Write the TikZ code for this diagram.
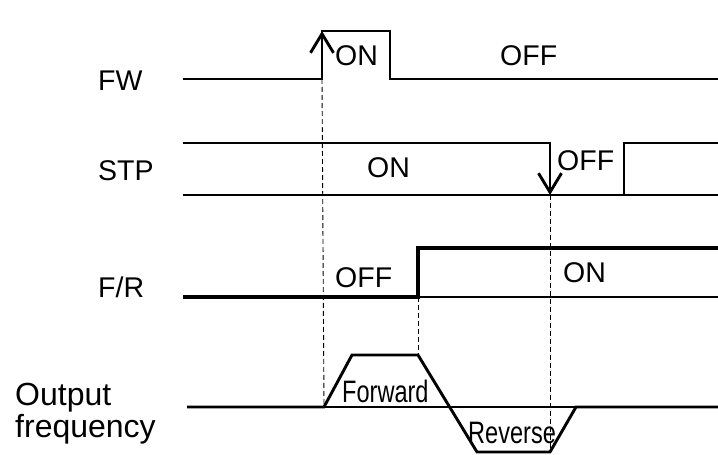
\documentclass[tikz,border=0pt]{standalone}
\usepackage{fontspec}
\setmainfont{Liberation Sans}
\usetikzlibrary{arrows.meta}

\begin{document}
\begin{tikzpicture}[x=1pt,y=-1pt,
    wave/.style={
      line width=2.9pt
    },
    heavy/.style={
      line width=4.8pt
    },
    zero/.style={
      line width=1.2pt
    },
    guide/.style={
      line width=0.9pt,
      dash pattern=on 5pt off 3pt
    },
    trig/.style={
      wave,
      -{Straight Barb[length=19pt,width=23pt]}
    },
    lbl/.style={
      inner sep=0pt,
      anchor=base west,
      font=\fontsize{28.5}{30}\selectfont
    },
    big/.style={lbl,font=\fontsize{32}{32}\selectfont},
    narrow/.style={lbl,font=\fontsize{31}{31}\selectfont}
    ]
    \useasboundingbox (0,0) rectangle (718,455);

    % instants on the traces
    \coordinate (fwrise) at (322,79);
    \coordinate (fwtop) at (322,31);
    \coordinate (stphigh) at (550,143);
    \coordinate (stpdrop) at (550,195);
    \coordinate (frrise) at (418,297);
    \coordinate (outstart) at (324,407);
    \coordinate (outtop) at (418,355);
    \coordinate (outbot) at (550,452);

    \node[lbl] (fw) at (98,90) {FW};
    \node[lbl] (stp) at (98,180) {STP};
    \node[lbl] (fr) at (98,297) {F/R};
    \node[big] (out) at (15,405) {Output};
    \node[big] (freq) at (15,437) {frequency};

    \draw[wave] (183,79) -- (fwrise) -- (fwtop) -- (390,31) -- (390,79) -- (718,79);
    \draw[trig] (fwrise) -- (fwtop);
    \node[lbl] (fwon) at (335,65) {ON};
    \node[lbl] (fwoff) at (500,65) {OFF};

    \draw[zero] (183,195) -- (718,195);
    \draw[wave] (183,143) -- (stphigh) -- (stpdrop) -- (624,195) -- (624,143) -- (718,143);
    \draw[trig] (stphigh) -- (stpdrop);
    \node[lbl] (stpon) at (367,177) {ON};
    \node[lbl] (stpoff) at (557,170) {OFF};

    \draw[zero] (frrise) -- (718,297);
    \draw[heavy] (183,297) -- (frrise) -- (418,248) -- (718,248);
    \node[lbl] (froff) at (335,287) {OFF};
    \node[lbl] (fron) at (563,282) {ON};

    \draw[zero] (outstart) -- (576,407);
    \draw[wave] (187,407) -- (outstart) -- (352,355) -- (outtop) -- (477,452) -- (outbot) -- (576,407) -- (718,407);
    \node[narrow] (fwd) at (342,402) {\scalebox{0.76}[1]{Forward}};
    \node[narrow] (rev) at (468,443) {\scalebox{0.76}[1]{Reverse}};

    \draw[guide] (fwrise) -- (outstart);
    \draw[guide] (frrise) -- (outtop);
    \draw[guide] (stpdrop) -- (outbot);
\end{tikzpicture}
\end{document}
